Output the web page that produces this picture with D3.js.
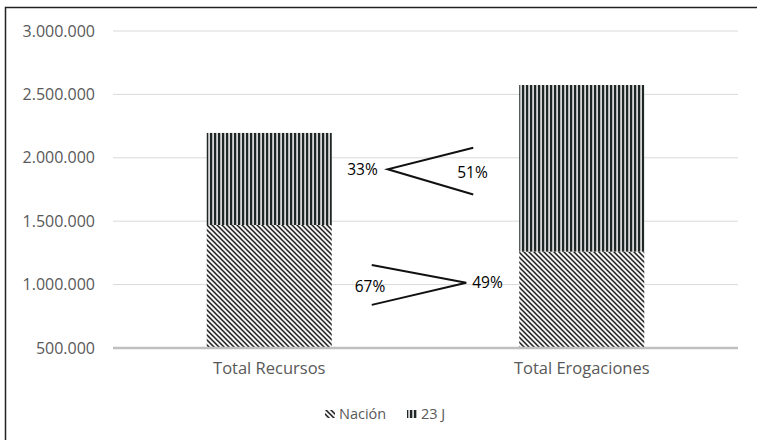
<!DOCTYPE html>
<html lang="es">
<head>
<meta charset="UTF-8">
<title>Recursos y Erogaciones</title>
<script src="https://d3js.org/d3.v7.min.js"></script>
<style>
  body { margin: 0; background: #fff; }
  svg text { font-family: "Open Sans", sans-serif; fill: #595959; }
</style>
</head>
<body>
<svg width="757" height="440"></svg>
<script>
const categories = ["Total Recursos", "Total Erogaciones"];
const nacion = [1470000, 1260000];
const j23 = [726000, 1314000];
const yTicks = [500000, 1000000, 1500000, 2000000, 2500000, 3000000];
const seriesNames = ["Nación", "23 J"];

const svg = d3.select("svg");
const margin = { top: 31, right: 19, bottom: 92, left: 113 };
const W = 757, H = 440;
const width = W - margin.left - margin.right;
const height = H - margin.top - margin.bottom;

// patterns
const defs = svg.append("defs");
const pDiag = defs.append("pattern").attr("id", "diag")
  .attr("patternUnits", "userSpaceOnUse").attr("width", 5).attr("height", 5);
pDiag.append("rect").attr("width", 5).attr("height", 5).attr("fill", "#f2f2f2");
pDiag.append("path").attr("d", "M-1,-1 L6,6 M-1,4 L1,6 M4,-1 L6,1")
  .attr("stroke", "#1e1e1e").attr("stroke-width", 1.5);

const pVert = defs.append("pattern").attr("id", "vert")
  .attr("patternUnits", "userSpaceOnUse").attr("width", 4).attr("height", 4);
pVert.append("rect").attr("width", 4).attr("height", 4).attr("fill", "#d8d8d8");
pVert.append("rect").attr("x", 1).attr("width", 2.2).attr("height", 4).attr("fill", "#1f2626");

const g = svg.append("g").attr("transform", `translate(${margin.left},${margin.top})`);

const x = d3.scaleBand().domain(categories).range([0, width])
  .paddingInner(0.6).paddingOuter(0.3);
const y = d3.scaleLinear().domain([500000, 3000000]).range([height, 0]);
const fmt = d => d3.format(",")(d).replace(/,/g, ".");

// grid + y axis labels
g.selectAll(".grid").data(yTicks.slice(1)).enter().append("line")
  .attr("x1", 0).attr("x2", width)
  .attr("y1", d => y(d)).attr("y2", d => y(d))
  .attr("stroke", "#d9d9d9").attr("stroke-width", 1);

g.selectAll(".ylab").data(yTicks).enter().append("text")
  .attr("x", -18).attr("y", d => y(d)).attr("dy", "0.35em")
  .attr("text-anchor", "end").style("font-size", "16px")
  .text(fmt);

// stacked bars (axis starts at 500.000, bars clipped there)
const data = categories.map((c, i) => ({ cat: c, n: nacion[i], j: j23[i] }));
const bx = g.selectAll(".bar").data(data).enter().append("g");
bx.append("rect")
  .attr("x", d => x(d.cat)).attr("width", x.bandwidth())
  .attr("y", d => y(d.n)).attr("height", d => y(500000) - y(d.n))
  .attr("fill", "url(#diag)");
bx.append("rect")
  .attr("x", d => x(d.cat)).attr("width", x.bandwidth())
  .attr("y", d => y(d.n + d.j)).attr("height", d => y(d.n) - y(d.n + d.j))
  .attr("fill", "url(#vert)");

// baseline
g.append("line").attr("x1", 0).attr("x2", width)
  .attr("y1", y(500000)).attr("y2", y(500000))
  .attr("stroke", "#bfbfbf").attr("stroke-width", 2.5);

// x labels
g.selectAll(".xlab").data(categories).enter().append("text")
  .attr("x", d => x(d) + x.bandwidth() / 2).attr("y", height + 26)
  .attr("text-anchor", "middle").style("font-size", "16.5px")
  .text(d => d);

// share annotations
const pct = (a, b) => Math.round(a / (a + b) * 100) + "%";
const gapL = x(categories[0]) + x.bandwidth(), gapR = x(categories[1]);
const ann = g.append("g").attr("stroke", "#111").attr("stroke-width", 2).attr("fill", "none");
// 23 J: vertex left, opening right
const upV = [gapL + 56, y(1910000)];
ann.append("path").attr("d", `M${gapR - 46},${y(2080000)} L${upV[0]},${upV[1]} L${gapR - 46},${y(1710000)}`);
// Nación: vertex right, opening left
const loV = [gapR - 53, y(1015000)];
ann.append("path").attr("d", `M${gapL + 40},${y(1155000)} L${loV[0]},${loV[1]} L${gapL + 40},${y(840000)}`);

const tx = g.append("g").style("font-size", "15.5px");
tx.append("text").attr("x", upV[0] - 10).attr("y", upV[1]).attr("dy", "0.35em")
  .attr("text-anchor", "end").style("fill", "#000").text(pct(j23[0], nacion[0]));
tx.append("text").attr("x", gapR - 62).attr("y", y(1885000)).attr("dy", "0.35em")
  .style("fill", "#000").text(pct(j23[1], nacion[1]));
tx.append("text").attr("x", gapL + 23).attr("y", y(985000)).attr("dy", "0.35em")
  .style("fill", "#000").text(pct(nacion[0], j23[0]));
tx.append("text").attr("x", loV[0] + 6).attr("y", loV[1]).attr("dy", "0.35em")
  .style("fill", "#000").text(pct(nacion[1], j23[1]));

// legend
const lg = svg.append("g").attr("transform", "translate(325,414)");
const items = [{ name: seriesNames[0], fill: "url(#diag)", x: 0 }, { name: seriesNames[1], fill: "url(#vert)", x: 82 }];
items.forEach(it => {
  lg.append("rect").attr("x", it.x).attr("y", -4).attr("width", 10).attr("height", 8).attr("fill", it.fill);
  lg.append("text").attr("x", it.x + 14).attr("y", 0).attr("dy", "0.35em")
    .style("font-size", "14.5px").text(it.name);
});

// frame (top and left only visible)
svg.append("path").attr("d", "M5.5,440 L5.5,7.5 L757,7.5")
  .attr("stroke", "#222").attr("stroke-width", 1.5).attr("fill", "none");
</script>
</body>
</html>
